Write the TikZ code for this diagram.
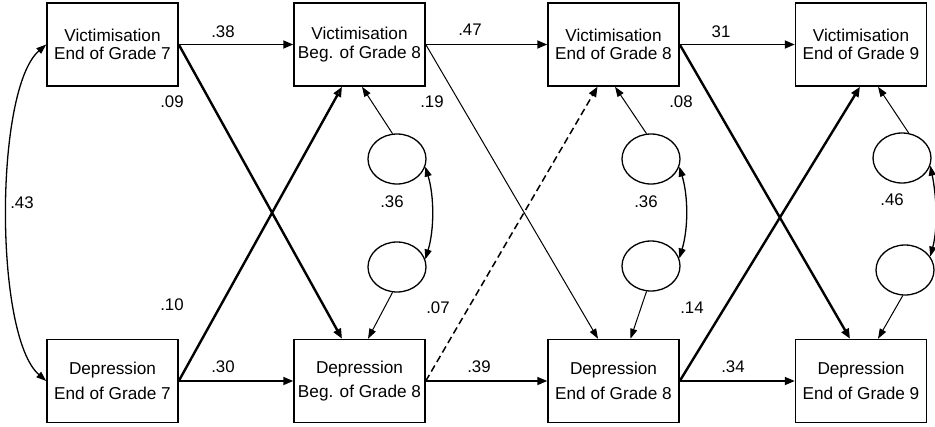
\documentclass[tikz,border=0pt]{standalone}
\usepackage{fontspec}
\setmainfont{Liberation Sans}
\usetikzlibrary{arrows.meta,shapes.geometric}
\tikzset{
  box/.style={draw,line width=1.5pt,minimum width=131pt,minimum height=83pt,inner sep=0pt,align=center,font=\fontsize{17.2}{18.5}\selectfont},
  res/.style={draw,ellipse,line width=1.3pt,minimum width=58pt,minimum height=50pt,inner sep=0pt},
  lab/.style={font=\fontsize{16.8}{18}\selectfont,inner sep=0pt},
  arr/.style={line width=1.7pt,-{Triangle[length=10pt,width=8pt]}},
  thk/.style={line width=2.4pt,-{Triangle[length=10pt,width=8pt]}},
  thn/.style={line width=1pt,-{Triangle[length=10pt,width=7pt]}},
  dbl/.style={line width=1.3pt,{Triangle[length=10pt,width=7pt]}-{Triangle[length=10pt,width=7pt]}}
}
\begin{document}
\begin{tikzpicture}[x=1pt,y=-1pt]
\useasboundingbox (0,0) rectangle (935,426);
% boxes
\node[box] (v7)  at (112.5,44.5) {Victimisation\\End of Grade 7};
\node[box] (v8b) at (359.5,44.5) {Victimisation\\Beg. of Grade 8};
\node[box] (v8e) at (613.5,44.5) {Victimisation\\End of Grade 8};
\node[box] (v9)  at (861,44.5)   {Victimisation\\End of Grade 9};
\node[box] (d7)  at (112.5,381) {Depression\\[7pt]End of Grade 7};
\node[box] (d8b) at (359.5,381) {Depression\\[5pt]Beg. of Grade 8};
\node[box] (d8e) at (613.5,381) {Depression\\[7pt]End of Grade 8};
\node[box] (d9)  at (861,381)   {Depression\\[7pt]End of Grade 9};
% residuals
\node[res] (r1) at (397,159) {};
\node[res] (r2) at (397,267) {};
\node[res] (r3) at (651,159) {};
\node[res] (r4) at (651,266) {};
\node[res] (r5) at (902,158) {};
\node[res] (r6) at (905,270) {};
% horizontal paths
\draw[arr] (v7.east) -- (v8b.west);
\draw[arr] (v8b.east) -- (v8e.west);
\draw[arr] (v8e.east) -- (v9.west);
\draw[arr] (d7.east) -- (d8b.west);
\draw[arr] (d8b.east) -- (d8e.west);
\draw[arr] (d8e.east) -- (d9.west);
% cross paths
\draw[thk] (v7.east) -- ([xshift=-17.5pt]d8b.north);
\draw[line width=2.4pt,-{Triangle[open,length=10pt,width=8pt]}] (d7.east) -- ([xshift=-17.5pt]v8b.south);
\draw[thn] (v8b.east) -- ([xshift=-15.5pt]d8e.north);
\draw[line width=1.5pt,dash pattern=on 7pt off 4pt,-{Triangle[length=10pt,width=8pt]}] (d8b.east) -- ([xshift=-16pt]v8e.south);
\draw[thk] (v8e.east) -- ([xshift=-11pt]d9.north);
\draw[thk] (d8e.east) -- ([xshift=-1pt]v9.south);
% residual paths
\draw[thn] (r1.100) -- ([xshift=2.5pt]v8b.south);
\draw[thn] (r2.260) -- ([xshift=8.5pt]d8b.north);
\draw[thn] (r3.100) -- ([xshift=1.5pt]v8e.south);
\draw[thn] (r4.260) -- ([xshift=17pt]d8e.north);
\draw[thn] (r5.75) -- ([xshift=17pt]v9.south);
\draw[thn] (r6.265) -- ([xshift=17pt]d9.north);
% correlations
\draw[dbl] (r1.-15) .. controls +(9,30) and +(9,-30) .. (r2.15);
\draw[dbl] (r3.-15) .. controls +(9,30) and +(9,-30) .. (r4.15);
\draw[dbl] (r5.-15) .. controls +(6,30) and +(8,-30) .. (r6.28);
\draw[dbl] (v7.west) .. controls +(-52,45) and +(-52,-45) .. (d7.west);
% labels
\node[lab] (l38) at (223,32) {.38};
\node[lab] (l09) at (172,102) {.09};
\node[lab] (l47) at (470,30) {.47};
\node[lab] (l19) at (432,102) {.19};
\node[lab] (l31) at (721,32) {31};
\node[lab] (l08) at (681,102) {.08};
\node[lab] (l43) at (22,203) {.43};
\node[lab] (l10) at (172,305) {.10};
\node[lab] (l30) at (223,367) {.30};
\node[lab] (l07) at (438,308) {.07};
\node[lab] (l39) at (479,367) {.39};
\node[lab] (l14) at (692,308) {.14};
\node[lab] (l34) at (733,367) {.34};
\node[lab] (l36a) at (392,202) {.36};
\node[lab] (l36b) at (646,202) {.36};
\node[lab] (l46) at (892,200) {.46};
\end{tikzpicture}
\end{document}
